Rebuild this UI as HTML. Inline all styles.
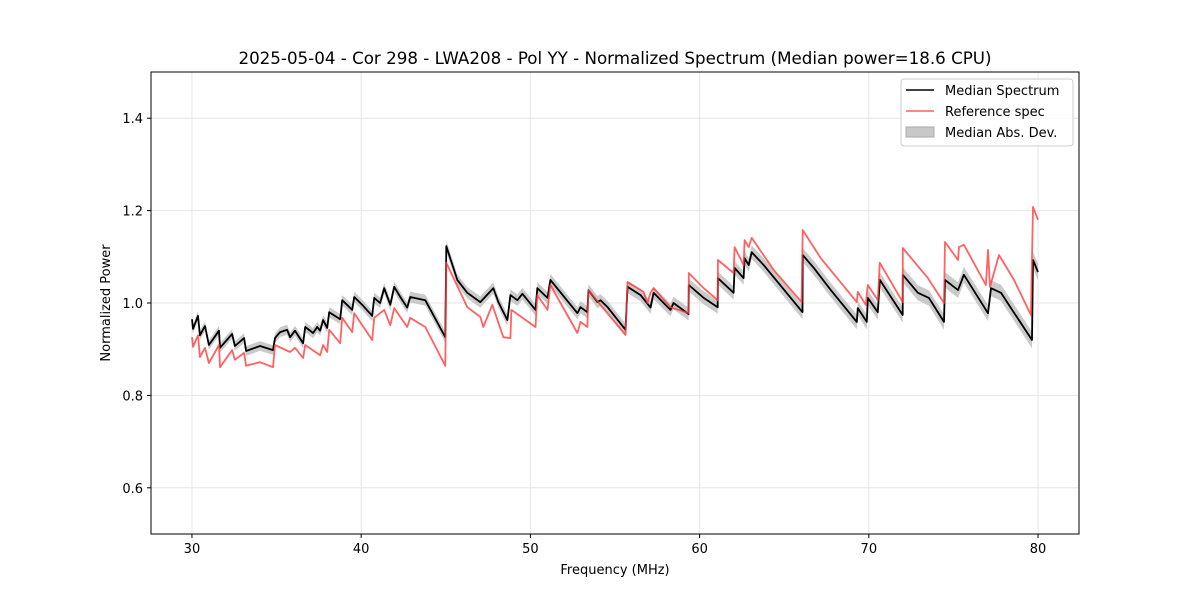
<!DOCTYPE html>
<html><head><meta charset="utf-8"><style>
body{margin:0;background:#fff;font-family:"Liberation Sans","DejaVu Sans",sans-serif}
svg text{font-family:"DejaVu Sans","Liberation Sans",sans-serif}
</style></head><body>
<svg id="chart" width="1200" height="600" xmlns="http://www.w3.org/2000/svg">
<rect width="1200" height="600" fill="#fff"/>
<g id="grid"></g>
<g id="series"></g>
<rect x="151" y="72" width="928" height="462" fill="none" stroke="#000" stroke-width="1"/>
<g id="axes"></g>
<text x="615" y="64" text-anchor="middle" font-size="16.7">2025-05-04 - Cor 298 - LWA208 - Pol YY - Normalized Spectrum (Median power=18.6 CPU)</text>
<text x="615" y="574" text-anchor="middle" font-size="13">Frequency (MHz)</text>
<text transform="translate(110,303) rotate(-90)" text-anchor="middle" font-size="13">Normalized Power</text>
<g>
<rect x="901" y="79" width="172" height="67" rx="3" fill="#fff" fill-opacity="0.8" stroke="#ccc"/>
<line x1="906" y1="90" x2="934" y2="90" stroke="#000" stroke-width="1.5"/>
<text x="945" y="95" font-size="13">Median Spectrum</text>
<line x1="906" y1="111" x2="934" y2="111" stroke="#ff5c5c" stroke-width="1.5"/>
<text x="945" y="116" font-size="13">Reference spec</text>
<rect x="906" y="127" width="28" height="10" fill="#c8c8c8" stroke="#aaa"/>
<text x="945" y="137" font-size="13">Median Abs. Dev.</text>
</g>
</svg>
<script>
const xTicks=[30,40,50,60,70,80];
const yTicks=[0.6,0.8,1.0,1.2,1.4];
const medFreq=[30.0,30.06,30.36,30.47,30.77,31.0,31.6,31.66,32.37,32.54,33.08,33.2,34.02,34.79,34.91,35.21,35.62,35.8,36.09,36.57,36.69,37.16,37.4,37.57,37.75,37.99,38.11,38.76,38.88,39.47,39.59,40.06,40.65,40.77,41.12,41.36,41.72,41.95,42.31,42.72,42.9,43.79,44.97,45.03,45.68,46.27,47.04,47.81,48.11,48.64,48.82,49.23,49.53,50.3,50.41,51.01,51.18,52.78,52.96,53.37,53.43,53.96,54.14,54.56,55.62,55.74,56.51,57.1,57.28,58.28,58.46,59.35,59.36,60.24,61.07,61.08,62.01,62.07,62.6,62.66,62.9,63.08,63.79,64.62,66.08,66.09,66.75,67.75,69.29,69.35,69.88,69.94,70.53,70.65,72.0,72.01,72.9,73.55,74.44,74.5,75.27,75.62,77.04,77.22,77.81,78.4,79.64,79.7,80.0];
const medVal=[0.965,0.944,0.972,0.93,0.95,0.909,0.94,0.903,0.933,0.907,0.924,0.896,0.907,0.898,0.924,0.937,0.942,0.926,0.94,0.913,0.948,0.935,0.948,0.94,0.963,0.946,0.98,0.965,1.006,0.985,1.013,0.996,0.972,1.011,1.0,1.032,0.996,1.035,1.013,0.99,1.013,1.006,0.926,1.123,1.05,1.022,1.002,1.032,1.002,0.963,1.017,1.006,1.02,0.985,1.032,1.011,1.05,0.978,0.991,0.98,1.028,1.002,1.006,0.991,0.942,1.035,1.017,0.99,1.022,0.985,1.0,0.976,1.039,1.011,0.991,1.054,1.022,1.076,1.054,1.097,1.082,1.11,1.082,1.045,0.98,1.104,1.076,1.028,0.959,0.989,0.959,1.011,0.98,1.05,0.974,1.061,1.022,1.011,0.959,1.05,1.028,1.061,0.978,1.032,1.022,0.989,0.92,1.093,1.067];
const refFreq=[30.0,30.06,30.36,30.47,30.77,31.0,31.6,31.66,32.37,32.54,33.08,33.2,34.02,34.79,34.91,35.8,36.09,36.57,36.69,37.57,37.75,37.99,38.11,38.76,38.88,39.47,39.59,40.65,40.77,41.36,41.72,41.95,42.72,42.9,43.79,44.97,45.03,46.27,47.04,47.22,47.75,48.4,48.82,48.88,50.3,50.41,51.01,51.18,52.78,52.96,53.37,53.43,54.14,55.62,55.74,56.69,56.92,57.1,57.28,58.28,59.35,59.36,60.24,61.07,61.08,62.01,62.07,62.6,62.66,62.9,63.08,64.39,66.03,66.09,67.16,69.29,69.35,69.82,69.94,70.53,70.65,72.0,72.01,73.49,74.44,74.5,75.27,75.33,75.62,76.92,77.04,77.16,77.69,78.58,79.58,79.7,80.0];
const refVal=[0.926,0.905,0.93,0.883,0.903,0.87,0.909,0.861,0.898,0.877,0.892,0.864,0.872,0.861,0.909,0.894,0.903,0.881,0.909,0.887,0.909,0.894,0.942,0.913,0.968,0.937,0.978,0.92,0.968,0.985,0.952,0.989,0.948,0.968,0.948,0.864,1.087,0.991,0.97,0.948,0.996,0.926,0.924,0.985,0.948,1.017,0.985,1.039,0.935,0.959,0.948,1.028,0.996,0.931,1.045,1.024,1.0,1.022,1.032,0.991,0.978,1.065,1.032,1.006,1.093,1.065,1.121,1.082,1.136,1.121,1.141,1.071,1.002,1.158,1.097,1.002,1.024,0.996,1.039,1.006,1.087,1.002,1.119,1.054,1.0,1.132,1.093,1.121,1.126,1.039,1.115,1.035,1.104,1.05,0.974,1.208,1.18];
const madFreq=[30,45,60,80];
const madVal=[0.01,0.012,0.014,0.018];

const X0=151,X1=1079,Y0=534,Y1=72,XMIN=27.58,XMAX=82.42,YMIN=0.5,YMAX=1.5;
const sx=f=>X0+(f-XMIN)/(XMAX-XMIN)*(X1-X0);
const sy=v=>Y0-(v-YMIN)/(YMAX-YMIN)*(Y0-Y1);
const NS='http://www.w3.org/2000/svg';
function mk(tag,parent,attrs){const e=document.createElementNS(NS,tag);for(const k in attrs)e.setAttribute(k,attrs[k]);parent.appendChild(e);return e;}
const grid=document.getElementById('grid'),axes=document.getElementById('axes'),ser=document.getElementById('series');
xTicks.forEach(t=>{const x=sx(t);
 const g=mk('line',grid,{x1:x,x2:x,y1:Y1,y2:Y0,stroke:'#e6e6e6','stroke-width':1});
 
 
 const tk=mk('line',axes,{x1:x,x2:x,y1:Y0,y2:Y0+4,stroke:'#000'});
 
 
 const tl=mk('text',axes,{x:x,y:Y0+19,'text-anchor':'middle','font-size':13});tl.textContent=t;
 
 
});
yTicks.forEach(t=>{const y=sy(t);
 const g=mk('line',grid,{x1:X0,x2:X1,y1:y,y2:y,stroke:'#e6e6e6','stroke-width':1});
 
 
 const tk=mk('line',axes,{x1:X0-4,x2:X0,y1:y,y2:y,stroke:'#000'});
 
 
 const tl=mk('text',axes,{x:X0-8,y:y+5,'text-anchor':'end','font-size':13});tl.textContent=t.toFixed(1);
 
 
});
function mad(f){for(let i=0;i<madFreq.length-1;i++){if(f<=madFreq[i+1]){const r=(f-madFreq[i])/(madFreq[i+1]-madFreq[i]);return madVal[i]+r*(madVal[i+1]-madVal[i]);}}return madVal[madVal.length-1];}
let up=medFreq.map((f,i)=>sx(f).toFixed(1)+','+sy(medVal[i]+mad(f)).toFixed(1));
let dn=medFreq.map((f,i)=>sx(f).toFixed(1)+','+sy(medVal[i]-mad(f)).toFixed(1)).reverse();
const band=mk('polygon',ser,{points:up.concat(dn).join(' '),fill:'#bdbdbd','fill-opacity':0.8,stroke:'none'});


const med=mk('polyline',ser,{points:medFreq.map((f,i)=>sx(f).toFixed(1)+','+sy(medVal[i]).toFixed(1)).join(' '),fill:'none',stroke:'#000','stroke-width':1.8,'stroke-linejoin':'round'});


const ref=mk('polyline',ser,{points:refFreq.map((f,i)=>sx(f).toFixed(1)+','+sy(refVal[i]).toFixed(1)).join(' '),fill:'none',stroke:'#ff3b3b','stroke-opacity':0.8,'stroke-width':1.8,'stroke-linejoin':'round'});


</script>
</body></html>
